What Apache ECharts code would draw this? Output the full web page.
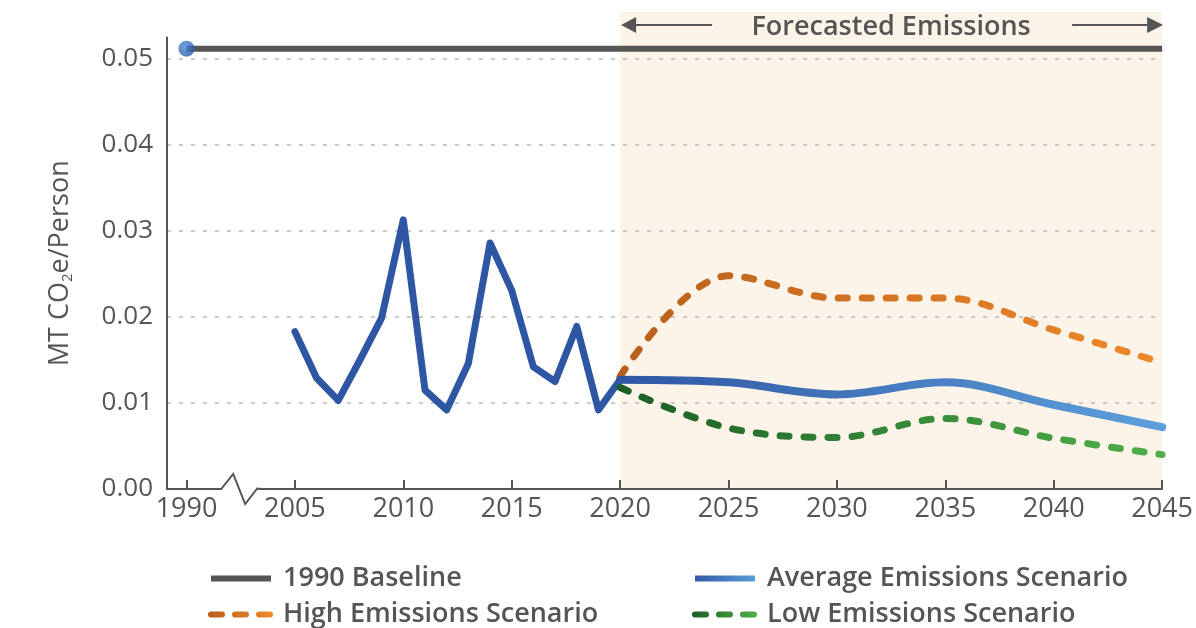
<!DOCTYPE html>
<html><head><meta charset="utf-8">
<script src="https://cdn.jsdelivr.net/npm/echarts@6/dist/echarts.min.js"></script>
<style>html,body{margin:0;padding:0;background:#fff}#c{width:1196px;height:628px}</style>
</head><body><div id="c"></div>
<script>
// ---- data ----
const historicalYears = [2005,2006,2007,2008,2009,2010,2011,2012,2013,2014,2015,2016,2017,2018,2019,2020];
const historicalValues = [0.0183,0.0129,0.0103,0.0150,0.0199,0.0313,0.0115,0.0092,0.0146,0.0286,0.0231,0.0142,0.0125,0.0189,0.0092,0.0127];
const forecastYears = [2020,2025,2030,2035,2040,2045];
const averageValues = [0.0127,0.0124,0.0110,0.0124,0.0098,0.0072];
const highValues = [0.0131,0.0248,0.0222,0.0222,0.0185,0.0147];
const lowValues = [0.0118,0.0071,0.0060,0.0082,0.0059,0.0040];
const baselineYears = [1990,2045];
const baselineValue = 0.0512;
const xTickYears = [1990,2005,2010,2015,2020,2025,2030,2035,2040,2045];
const yTicks = [0,0.01,0.02,0.03,0.04,0.05];
const forecastRange = [2020,2045];
const forecastLabel = 'Forecasted Emissions';
const names = {base:'1990 Baseline', avg:'Average Emissions Scenario', high:'High Emissions Scenario', low:'Low Emissions Scenario'};

// axis break: years before 2005 are drawn 10 years to the right
const BREAK_AT = 2000, BREAK_SHIFT = 10;
const pos = y => (y < BREAK_AT ? y + BREAK_SHIFT : y);
const unpos = p => (p < 2005 ? Math.round(p - BREAK_SHIFT) : p);

const FONT = "'Open Sans', 'Noto Sans', sans-serif";
const TXT = '#555';
const pair = (xs, vs) => xs.map((x, i) => [pos(x), vs[i]]);
const grad = (a, b) => new echarts.graphic.LinearGradient(0, 0, 1, 0, [{offset:0,color:a},{offset:1,color:b}]);

const legendItem = (name, left, top, dashed) => ({
  data: [name], left, top, itemWidth: 60, itemHeight: 14, selectedMode: false,
  itemStyle: {opacity: 0},
  lineStyle: {width: 6, cap: dashed ? 'round' : 'butt', type: dashed ? [11, 13] : 'solid'},
  textStyle: {color: TXT, fontSize: 27, fontWeight: 600, fontFamily: FONT, padding: [0, 0, 0, 7]}
});

const chart = echarts.init(document.getElementById('c'), null, {renderer:'canvas'});
const option = {
  animation: false,
  backgroundColor: '#fff',
  grid: {left: 167, right: 33, top: 37.5, bottom: 139},
  xAxis: {
    type: 'value', min: 1999.1, max: 2045,
    axisLine: {lineStyle: {color: TXT, width: 2}},
    axisTick: {inside: true, length: 9, lineStyle: {color: TXT, width: 2}, customValues: xTickYears.map(pos)},
    axisLabel: {customValues: xTickYears.map(pos), formatter: v => String(unpos(v)), color: TXT, fontSize: 27, fontFamily: FONT, margin: 7},
    splitLine: {show: false}
  },
  yAxis: {
    type: 'value', min: 0, max: 0.0525,
    name: 'MT CO{sub|2}e/Person', nameLocation: 'middle', nameRotate: 90, nameGap: 92,
    nameTextStyle: {color: TXT, fontSize: 27, fontFamily: FONT, rich: {sub: {fontSize: 15, verticalAlign: 'bottom', padding: [14,0,0,0], color: TXT, fontFamily: FONT}}},
    axisLine: {show: true, lineStyle: {color: TXT, width: 2}},
    axisTick: {show: false, customValues: yTicks},
    axisLabel: {customValues: yTicks, formatter: v => v.toFixed(2), color: TXT, fontSize: 26, fontFamily: FONT, margin: 14},
    splitLine: {show: true, lineStyle: {color: '#b8b8b8', width: 1.5, type: [4, 8]}}
  },
  legend: [
    legendItem(names.base, 203, 560, false),
    legendItem(names.high, 203, 596, true),
    legendItem(names.avg, 687, 560, false),
    legendItem(names.low, 687, 596, true)
  ],
  series: [
    {name: names.base, type: 'line', data: pair(baselineYears, baselineYears.map(() => baselineValue)), clip: false,
     symbol: 'none', color: '#555', lineStyle: {color: '#555', width: 6}, z: 3},
    {name: 'baselineDot', type: 'scatter', data: [[pos(baselineYears[0]), baselineValue]], symbolSize: 16, clip: false,
     itemStyle: {color: new echarts.graphic.RadialGradient(0.4, 0.35, 0.7, [{offset:0,color:'#4f86d6'},{offset:1,color:'#2a58a8'}])}, z: 4},
    {name: 'Historical', type: 'line', data: pair(historicalYears, historicalValues), symbol: 'none',
     lineStyle: {color: '#2f56a3', width: 7, join: 'round', cap: 'round'}, z: 3},
    {name: names.high, type: 'line', data: pair(forecastYears, highValues), symbol: 'none', smooth: 0.35,
     color: grad('#b85f1c', '#f08a2a'),
     lineStyle: {color: grad('#b85f1c', '#f08a2a'), width: 7, type: [9, 15], cap: 'round'}, z: 3},
    {name: names.low, type: 'line', data: pair(forecastYears, lowValues), symbol: 'none', smooth: 0.35,
     color: grad('#1c5e24', '#4fb04a'),
     lineStyle: {color: grad('#1c5e24', '#4fb04a'), width: 7, type: [9, 15], cap: 'round'}, z: 3},
    {name: names.avg, type: 'line', data: pair(forecastYears, averageValues), symbol: 'none', smooth: 0.35,
     color: grad('#2f56a3', '#5da0dc'),
     lineStyle: {color: grad('#2f56a3', '#5da0dc'), width: 8, cap: 'round'}, z: 3}
  ]
};
chart.setOption(option);

// graphics derived from the axis scales
const P = (x, y) => chart.convertToPixel({gridIndex: 0}, [x, y]);
const [fx0, y0] = P(pos(forecastRange[0]), 0);
const [fx1] = P(pos(forecastRange[1]), 0);
const bandTop = 12;
const hy = 25;
const mid = (fx0 + fx1) / 2;
const bx0 = P(2001.6, 0)[0];
chart.setOption({
  graphic: [
    {type: 'rect', z: -10, silent: true, shape: {x: fx0, y: bandTop, width: fx1 - fx0, height: y0 - bandTop}, style: {fill: '#fdf4e9'}},
    {type: 'text', z: 10, style: {text: forecastLabel, x: mid, y: hy + 2, align: 'center', verticalAlign: 'middle', fill: TXT, font: "600 27px 'Open Sans', sans-serif"}},
    {type: 'line', z: 10, shape: {x1: fx0 + 10, y1: hy, x2: fx0 + 92, y2: hy}, style: {stroke: TXT, lineWidth: 2}},
    {type: 'polygon', z: 10, shape: {points: [[fx0 + 1, hy], [fx0 + 16, hy - 8], [fx0 + 16, hy + 8]]}, style: {fill: TXT}},
    {type: 'line', z: 10, shape: {x1: fx1 - 90, y1: hy, x2: fx1 - 8, y2: hy}, style: {stroke: TXT, lineWidth: 2}},
    {type: 'polygon', z: 10, shape: {points: [[fx1 + 1, hy], [fx1 - 15, hy - 8], [fx1 - 15, hy + 8]]}, style: {fill: TXT}},
    {type: 'rect', z: 10, shape: {x: bx0 + 1, y: y0 - 4, width: 36, height: 8}, style: {fill: '#fff'}},
    {type: 'polyline', z: 11, shape: {points: [[bx0, y0], [bx0 + 12, y0 - 15], [bx0 + 24, y0 + 15], [bx0 + 36, y0 - 0.5], [bx0 + 40, y0]]}, style: {stroke: TXT, lineWidth: 2, fill: null}}
  ]
});
</script></body></html>
